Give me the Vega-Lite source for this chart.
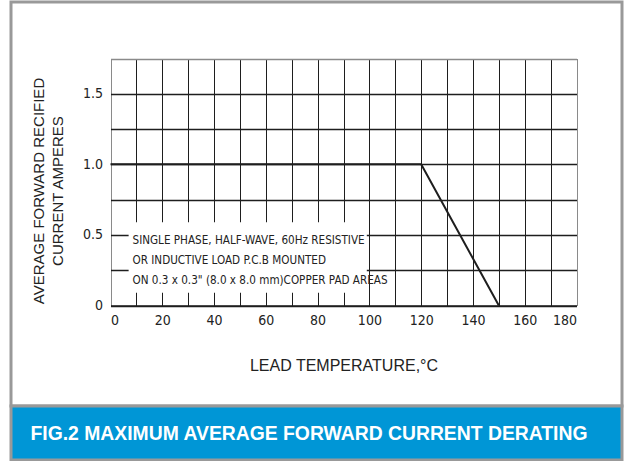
{
  "$schema": "https://vega.github.io/schema/vega-lite/v6.json",
  "background": "white",
  "padding": {"left": 9, "top": 0, "right": 0, "bottom": 0},
  "spacing": 0,
  "bounds": "flush",
  "config": {
    "view": {"stroke": "#999999", "strokeWidth": 3, "fill": "white"},
    "font": "Liberation Sans"
  },
  "datasets": {
    "curve": [
      {"temp": 0, "amps": 1.0},
      {"temp": 120, "amps": 1.0},
      {"temp": 150, "amps": 0}
    ],
    "note": [
      {"text": "SINGLE PHASE, HALF-WAVE, 60Hz RESISTIVE\nOR INDUCTIVE LOAD P.C.B MOUNTED\nON 0.3 x 0.3\" (8.0 x 8.0 mm)COPPER PAD AREAS"}
    ],
    "caption": [
      {"text": "FIG.2 MAXIMUM AVERAGE FORWARD CURRENT DERATING"}
    ]
  },
  "vconcat": [
    {
      "width": 611,
      "height": 404,
      "resolve": {"axis": {"x": "independent"}},
      "layer": [
        {
          "data": {"name": "note"},
          "mark": {"type": "rect", "fill": "white"},
          "encoding": {
            "x": {
              "datum": 7, "type": "quantitative",
              "axis": {
                "orient": "top",
                "offset": 0,
                "title": null,
                "values": [0, 10, 20, 30, 40, 50, 60, 70, 80, 90, 100, 110, 120, 130, 140, 150, 160, 170, 180],
                "labels": false,
                "ticks": false,
                "domain": false,
                "grid": true,
                "gridColor": {"condition": {"test": "datum.value === 0 || datum.value === 180", "value": "#8a8a8a"}, "value": "#1e1e1e"},
                "gridWidth": 1,
                "zindex": 0
              }
            },
            "x2": {"datum": 99},
            "y": {"datum": 0.09, "type": "quantitative"},
            "y2": {"datum": 0.59}
          }
        },
        {
          "data": {"name": "note"},
          "mark": {"type": "text", "lineBreak": "\n", "align": "left", "baseline": "alphabetic", "font": "Noto Sans ExtraCondensed, Noto Sans Condensed, DejaVu Sans Condensed, Liberation Sans", "fontSize": 11.6, "lineHeight": 20, "color": "#222222"},
          "encoding": {
            "x": {"datum": 8.5, "type": "quantitative", "axis": null},
            "y": {"datum": 0.439, "type": "quantitative"},
            "text": {"field": "text"}
          }
        },
        {
          "data": {"name": "curve"},
          "mark": {"type": "line", "color": "#1e1e1e", "strokeWidth": 2},
          "encoding": {
            "x": {
              "field": "temp", "type": "quantitative",
              "scale": {"domain": [0, 180], "range": [99.5, 565.5], "nice": false, "zero": false},
              "axis": {
                "title": "LEAD TEMPERATURE,°C",
                "orient": "bottom",
                "offset": -100.5,
                "values": [0, 20, 40, 60, 80, 100, 120, 140, 160, 180],
                "grid": false,
                "ticks": false,
                "domain": true,
                "domainColor": "#1e1e1e",
                "domainWidth": 1.5,
                "labelFont": "Noto Sans ExtraCondensed, Noto Sans Condensed, DejaVu Sans Condensed, Liberation Sans",
                "labelFontSize": 14,
                "labelColor": "#222222",
                "labelPadding": 8,
                "titleFont": "Liberation Sans",
                "titleFontSize": 16,
                "titleFontWeight": "normal",
                "titleColor": "#222222",
                "titlePadding": 30,
                "zindex": 0
              }
            },
            "y": {
              "field": "amps", "type": "quantitative",
              "scale": {"domain": [0, 1.75], "range": [303.5, 56.5], "nice": false, "zero": false},
              "axis": {
                "title": ["AVERAGE FORWARD RECIFIED", "CURRENT AMPERES"],
                "orient": "left",
                "offset": -99.5,
                "values": [0, 0.25, 0.5, 0.75, 1, 1.25, 1.5, 1.75],
                "labelExpr": "datum.value === 0 ? '0' : ((datum.value * 2) % 1 === 0 ? format(datum.value, '.1f') : '')",
                "grid": true,
                "gridColor": {"condition": {"test": "datum.value === 1.75", "value": "#8a8a8a"}, "value": "#1e1e1e"},
                "gridWidth": 1.5,
                "ticks": false,
                "domain": false,
                "labelFont": "Noto Sans ExtraCondensed, Noto Sans Condensed, DejaVu Sans Condensed, Liberation Sans",
                "labelFontSize": 14,
                "labelColor": "#222222",
                "labelPadding": 8,
                "titleFont": "Liberation Sans",
                "titleFontSize": 15,
                "titleFontWeight": "normal",
                "titleColor": "#222222",
                "titleLineHeight": 19,
                "titlePadding": 17,
                "titleY": 188.5,
                "zindex": 0
              }
            }
          }
        }
      ]
    },
    {
      "width": 611,
      "height": 54,
      "view": {"fill": "#0096D6", "stroke": "#999999", "strokeWidth": 3},
      "data": {"name": "caption"},
      "mark": {"type": "text", "align": "center", "baseline": "middle", "font": "Liberation Sans", "fontSize": 19.35, "fontWeight": "bold", "color": "white", "dx": -7.5, "dy": 1},
      "encoding": {"text": {"field": "text"}}
    }
  ]
}
